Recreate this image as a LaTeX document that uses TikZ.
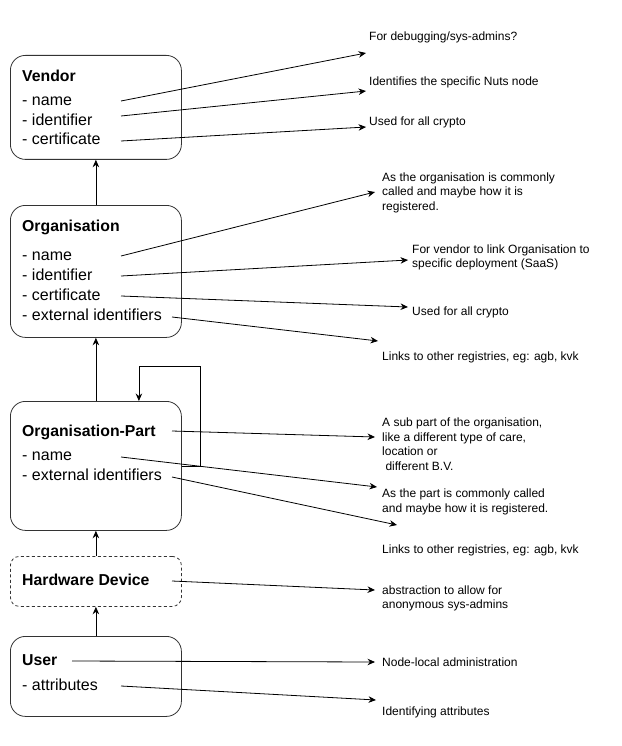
\documentclass[tikz,border=0pt]{standalone}
\usepackage{fontspec}
\setmainfont{Liberation Sans}
\usetikzlibrary{arrows.meta}
\tikzset{
  box/.style={draw=black!80, line width=0.8pt, rounded corners=15pt, anchor=north west, minimum width=171pt},
  hwbox/.style={box, dash pattern=on 3pt off 2.5pt, rounded corners=9pt},
  head/.style={anchor=base west, inner sep=0pt, font=\fontsize{15.8}{18}\selectfont\bfseries},
  item/.style={anchor=base west, inner sep=0pt, font=\fontsize{16}{18}\selectfont},
  note/.style={anchor=west, inner sep=0pt, align=left, font=\fontsize{12}{14.5}\selectfont},
  link/.style={line width=0.8pt, -{Stealth[length=7.5pt,width=6.5pt]}},
}
\begin{document}
\begin{tikzpicture}[x=1pt,y=-1pt]
\useasboundingbox (0,0) rectangle (621,746);

% boxes
\node[box, minimum height=104pt] (vendor) at (10,55) {};
\node[box, minimum height=132pt] (org) at (10,205) {};
\node[box, minimum height=129pt] (part) at (10,401) {};
\node[hwbox, minimum height=50pt] (hw) at (10,556) {};
\node[box, minimum height=80pt] (user) at (10,636) {};

% texts in the boxes
\node[head] (vHead) at (22,82) {Vendor};
\node[item] (vName) at (22,106) {- name};
\node[item] (vId) at (22,125.5) {- identifier};
\node[item] (vCert) at (22,145) {- certificate};

\node[head] (oHead) at (22,231) {Organisation};
\node[item] (oName) at (22,260.5) {- name};
\node[item] (oId) at (22,280.5) {- identifier};
\node[item] (oCert) at (22,300.5) {- certificate};
\node[item] (oExt) at (22,320.5) {- external identifiers};

\node[head] (pHead) at (22,436.5) {Organisation-Part};
\node[item] (pName) at (22,460) {- name};
\node[item] (pExt) at (22,480.5) {- external identifiers};

\node[head] (hwHead) at (22,585.5) {Hardware Device};

\node[head] (uHead) at (22,665.5) {User};
\node[item] (uAttr) at (22,690.5) {- attributes};

% notes
\node[note] (dbg) at (369,37) {For debugging/sys-admins?};
\node[note] (nuts) at (369,82) {Identifies the specific Nuts node};
\node[note] (vcrypto) at (369,122) {Used for all crypto};
\node[note] (called) at (382,192.5) {As the organisation is commonly\\called and maybe how it is\\registered.};
\node[note] (saas) at (412,257.5) {For vendor to link Organisation to\\specific deployment (SaaS)};
\node[note] (ocrypto) at (412,312) {Used for all crypto};
\node[note] (oLinks) at (382,357) {Links to other registries, eg: agb, kvk};
\node[note] (sub) at (382,444) {A sub part of the organisation,\\like a different type of care,\\location or\\\hspace*{3.3pt}different B.V.};
\node[note] (pcalled) at (382,502) {As the part is commonly called\\and maybe how it is registered.};
\node[note] (pLinks) at (382,550) {Links to other registries, eg: agb, kvk};
\node[note] (abs) at (382,598.5) {abstraction to allow for\\anonymous sys-admins};
\node[note] (local) at (382,662) {Node-local administration};
\node[note] (ident) at (382,712) {Identifying attributes};

% ends of the links
\coordinate (vName-o) at (121,101);
\coordinate (vId-o) at (121,116);
\coordinate (vCert-o) at (121,141);
\coordinate (oName-o) at (121,256);
\coordinate (oId-o) at (121,276);
\coordinate (oCert-o) at (121,296);
\coordinate (oExt-o) at (172,317);
\coordinate (pHead-o) at (172,431);
\coordinate (pName-o) at (121,457);
\coordinate (pExt-o) at (172,477);
\coordinate (hw-o) at (172,581);
\coordinate (uHead-o) at (72,661);
\coordinate (uAttr-o) at (121,686);

\coordinate (dbg-i) at (366,53);
\coordinate (nuts-i) at (366,91);
\coordinate (vcrypto-i) at (366,127);
\coordinate (called-i) at (375,192);
\coordinate (saas-i) at (408,260);
\coordinate (ocrypto-i) at (408,307);
\coordinate (oLinks-i) at (378,341);
\coordinate (sub-i) at (375,437);
\coordinate (pcalled-i) at (377,487);
\coordinate (pLinks-i) at (397,525);
\coordinate (abs-i) at (375,590);
\coordinate (local-i) at (375,662);
\coordinate (ident-i) at (376,700);

\foreach \a/\b in {vName-o/dbg-i, vId-o/nuts-i, vCert-o/vcrypto-i,
  oName-o/called-i, oId-o/saas-i, oCert-o/ocrypto-i, oExt-o/oLinks-i,
  pHead-o/sub-i, pName-o/pcalled-i, pExt-o/pLinks-i,
  hw-o/abs-i, uHead-o/local-i, uAttr-o/ident-i}{
\draw[link] (\a) -- (\b);
}

% between the boxes
\draw[link] (org) -- (vendor);
\draw[link] (part) -- (org);
\draw[link] (hw) -- (part);
\draw[link] (user) -- (hw);
\draw[link] (part.east) -- ++(19,0) -- ++(0,-100) -| ([xshift=43pt]part.north);
\end{tikzpicture}
\end{document}
